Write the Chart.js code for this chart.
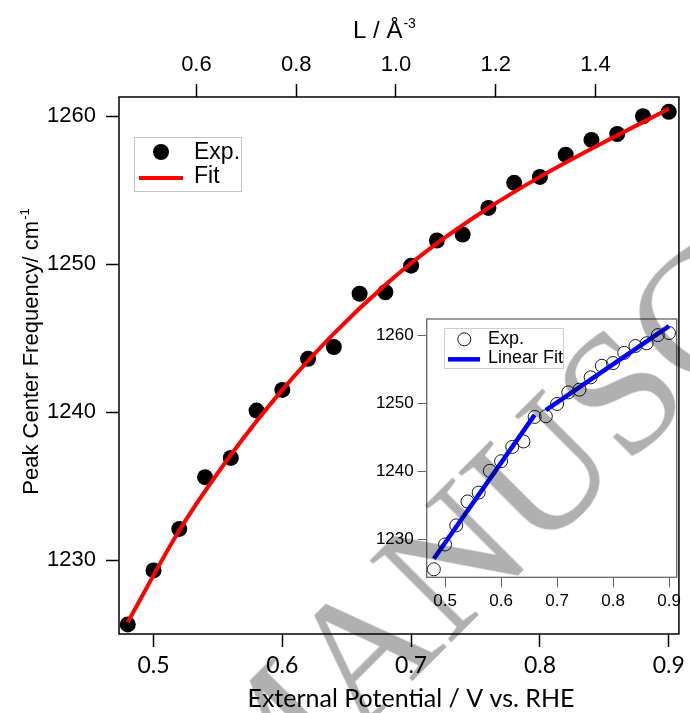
<!DOCTYPE html>
<html><head><meta charset="utf-8">
<script src="https://cdn.jsdelivr.net/npm/chart.js@4.4.0/dist/chart.umd.min.js"></script>
<style>
html,body{margin:0;padding:0;background:#fff;}
#wrap{position:relative;width:690px;height:713px;overflow:hidden;background:#fff;}
#main{position:absolute;left:0;top:0;}
#inset{position:absolute;left:360px;top:300px;}
#wm{position:absolute;left:145px;top:742px;transform:rotate(-45deg);transform-origin:0 0;font-family:'Liberation Serif',serif;font-size:175px;line-height:1;color:#b0b0b0;white-space:nowrap;mix-blend-mode:multiply;pointer-events:none;}
</style></head>
<body><div id="wrap">
<canvas id="main" width="690" height="713"></canvas>
<canvas id="inset" width="330" height="320"></canvas>
<div id="wm">MANUSCRIPT</div>
</div>
<script>
// ---- data ----
const potential = [0.48,0.50,0.52,0.54,0.56,0.58,0.60,0.62,0.64,0.66,0.68,0.70,0.72,0.74,0.76,0.78,0.80,0.82,0.84,0.86,0.88,0.90];
const peakFreq  = [1225.65,1229.3,1232.1,1235.6,1236.9,1240.1,1241.5,1243.6,1244.4,1248.0,1248.1,1249.9,1251.6,1252.0,1253.8,1255.5,1255.9,1257.4,1258.4,1258.8,1260.0,1260.3];
const fitX = [0.48,0.52,0.56,0.60,0.64,0.68,0.72,0.76,0.80,0.84,0.88,0.90];
const fitY = [1225.8,1232.0,1237.1,1241.5,1245.3,1248.6,1251.4,1253.8,1255.9,1257.8,1259.6,1260.5];
const linFitLowX = [0.48,0.66];
const linFitLowY = [1227.2,1248.3];
const linFitHighX = [0.68,0.90];
const linFitHighY = [1249.0,1261.3];
const bottomTicks = [0.5,0.6,0.7,0.8,0.9];
const topTicks = [0.6,0.8,1.0,1.2,1.4];
const leftTicks = [1230,1240,1250,1260];
const insetXTicks = [0.5,0.6,0.7,0.8,0.9];
const insetYTicks = [1230,1240,1250,1260];

const pts = (xs,ys)=>xs.map((x,i)=>({x:x,y:ys[i]}));
const setTicks = arr => s => { s.ticks = arr.map(v=>({value:v})); };

function drawSup(ctx, base, sup, cx, cy, size, family){
  ctx.font = size+'px '+family;
  const w1 = ctx.measureText(base).width;
  ctx.font = Math.round(size*0.6)+'px '+family;
  const w2 = ctx.measureText(sup).width;
  const x0 = cx - (w1+w2)/2;
  ctx.textAlign='left'; ctx.textBaseline='alphabetic';
  ctx.font = size+'px '+family;
  ctx.fillText(base, x0, cy + size*0.36);
  ctx.font = Math.round(size*0.6)+'px '+family;
  ctx.fillText(sup, x0+w1+1, cy + size*0.36 - size*0.42);
}

const mainDeco = {
  id:'mainDeco',
  afterDraw(chart){
    const ctx = chart.ctx, a = chart.chartArea;
    ctx.save();
    ctx.strokeStyle='#000'; ctx.lineWidth=1.5;
    ctx.strokeRect(a.left, a.top, a.right-a.left, a.bottom-a.top);
    ctx.fillStyle='#000';
    // titles
    drawSup(ctx,'L / \u00C5','-3',384,29,24,"'Liberation Sans'");
    ctx.save(); ctx.translate(30,352); ctx.rotate(-Math.PI/2);
    drawSup(ctx,'Peak Center Frequency/ cm','-1',0,0,22,"'Liberation Sans'");
    ctx.restore();
    ctx.font="25px Lato"; ctx.textAlign='center'; ctx.textBaseline='middle';
    ctx.fillText('External Potential / V vs. RHE',411,699);
    // legend
    ctx.strokeStyle='#c4c4c4'; ctx.lineWidth=1;
    ctx.strokeRect(134.5,137.5,107,54);
    ctx.beginPath(); ctx.arc(161,152,8,0,Math.PI*2); ctx.fill();
    ctx.strokeStyle='#ff0000'; ctx.lineWidth=4;
    ctx.beginPath(); ctx.moveTo(139,178); ctx.lineTo(183,178); ctx.stroke();
    ctx.font="23px 'Liberation Sans'"; ctx.textAlign='left'; ctx.textBaseline='middle';
    ctx.fillText(chart.data.datasets[1].label,194,153);
    ctx.fillText(chart.data.datasets[0].label,194,177);
    ctx.restore();
  }
};

new Chart(document.getElementById('main'),{
  data:{datasets:[
    {type:'line',label:'Fit',data:pts(fitX,fitY),borderColor:'#ff0000',borderWidth:4,pointRadius:0,cubicInterpolationMode:'monotone',fill:false,order:0},
    {type:'scatter',label:'Exp.',data:pts(potential,peakFreq),backgroundColor:'#000',borderColor:'#000',pointRadius:8,pointHoverRadius:8,borderWidth:0,order:1}
  ]},
  options:{
    responsive:false,animation:false,events:[],
    layout:{padding:{left:0,top:0,right:7,bottom:0}},
    plugins:{legend:{display:false},tooltip:{enabled:false}},
    scales:{
      x:{type:'linear',position:'bottom',min:0.4732,max:0.9079,
        afterBuildTicks:setTicks(bottomTicks),afterFit:s=>{s.height=79;},
        grid:{drawOnChartArea:false,drawTicks:true,tickLength:13,tickColor:'#000',tickWidth:1.5},
        border:{display:false},
        ticks:{font:{family:'Lato',size:23},color:'#000',padding:5,maxRotation:0,autoSkip:false,callback:v=>v.toFixed(1)}},
      x2:{type:'linear',position:'top',min:0.4448,max:1.5672,
        afterBuildTicks:setTicks(topTicks),afterFit:s=>{s.height=97;},
        grid:{drawOnChartArea:false,drawTicks:true,tickLength:13,tickColor:'#000',tickWidth:1.5},
        border:{display:false},
        ticks:{font:{family:'Liberation Sans',size:22},color:'#000',padding:6,maxRotation:0,autoSkip:false,callback:v=>v.toFixed(1)}},
      y:{type:'linear',position:'left',min:1225.0,max:1261.3,
        afterBuildTicks:setTicks(leftTicks),afterFit:s=>{s.width=119;},
        grid:{drawOnChartArea:false,drawTicks:true,tickLength:13,tickColor:'#000',tickWidth:1.5},
        border:{display:false},
        ticks:{font:{family:'Liberation Sans',size:22},color:'#000',padding:10,autoSkip:false,callback:v=>String(v)}}
    }
  },
  plugins:[mainDeco]
});

const insetDeco = {
  id:'insetDeco',
  beforeDraw(chart){
    const ctx=chart.ctx,a=chart.chartArea;
    ctx.save(); ctx.fillStyle='#fff'; ctx.fillRect(a.left,a.top,a.right-a.left,a.bottom-a.top); ctx.restore();
  },
  afterDraw(chart){
    const ctx=chart.ctx,a=chart.chartArea;
    ctx.save();
    ctx.strokeStyle='#666'; ctx.lineWidth=1.3;
    ctx.strokeRect(a.left,a.top,a.right-a.left,a.bottom-a.top);
    // legend (canvas coords relative to inset)
    ctx.strokeStyle='#d0d0d0'; ctx.lineWidth=1;
    ctx.strokeRect(84.5,28.5,119,40);
    ctx.strokeStyle='#000'; ctx.lineWidth=0.9;
    ctx.beginPath(); ctx.arc(104.3,39.3,6.5,0,Math.PI*2); ctx.stroke();
    ctx.strokeStyle='#0000ff'; ctx.lineWidth=4.5;
    ctx.beginPath(); ctx.moveTo(88,59.3); ctx.lineTo(120,59.3); ctx.stroke();
    ctx.fillStyle='#000'; ctx.font="18px 'Liberation Sans'"; ctx.textAlign='left'; ctx.textBaseline='middle';
    ctx.fillText(chart.data.datasets[2].label,128,39.5);
    ctx.fillText(chart.data.datasets[0].label,128,58.5);
    ctx.restore();
  }
};

new Chart(document.getElementById('inset'),{
  data:{datasets:[
    {type:'line',label:'Linear Fit',data:pts(linFitLowX,linFitLowY),borderColor:'#0000ff',borderWidth:4.5,pointRadius:0,fill:false,order:0},
    {type:'line',label:'Linear Fit (high)',data:pts(linFitHighX,linFitHighY),borderColor:'#0000ff',borderWidth:4.5,pointRadius:0,fill:false,order:0},
    {type:'scatter',label:'Exp.',data:pts(potential,peakFreq),backgroundColor:'rgba(0,0,0,0)',borderColor:'#000',borderWidth:0.9,pointRadius:6.5,pointHoverRadius:6.5,order:1}
  ]},
  options:{
    responsive:false,animation:false,events:[],
    layout:{padding:{left:0,top:19,right:13.3,bottom:0}},
    plugins:{legend:{display:false},tooltip:{enabled:false}},
    scales:{
      x:{type:'linear',position:'bottom',min:0.4672,max:0.9137,
        afterBuildTicks:setTicks(insetXTicks),afterFit:s=>{s.height=42.7;},
        grid:{drawOnChartArea:false,drawTicks:true,tickLength:10,tickColor:'#666',tickWidth:1},
        border:{display:false},
        ticks:{font:{family:'Liberation Sans',size:17},color:'#000',padding:4,maxRotation:0,autoSkip:false,callback:v=>v.toFixed(1)}},
      y:{type:'linear',position:'left',min:1224.48,max:1262.36,
        afterBuildTicks:setTicks(insetYTicks),afterFit:s=>{s.width=66.7;},
        grid:{drawOnChartArea:false,drawTicks:true,tickLength:9,tickColor:'#666',tickWidth:1},
        border:{display:false},
        ticks:{font:{family:'Liberation Sans',size:17},color:'#000',padding:4,autoSkip:false,callback:v=>String(v)}}
    }
  },
  plugins:[insetDeco]
});
</script>
</body></html>
